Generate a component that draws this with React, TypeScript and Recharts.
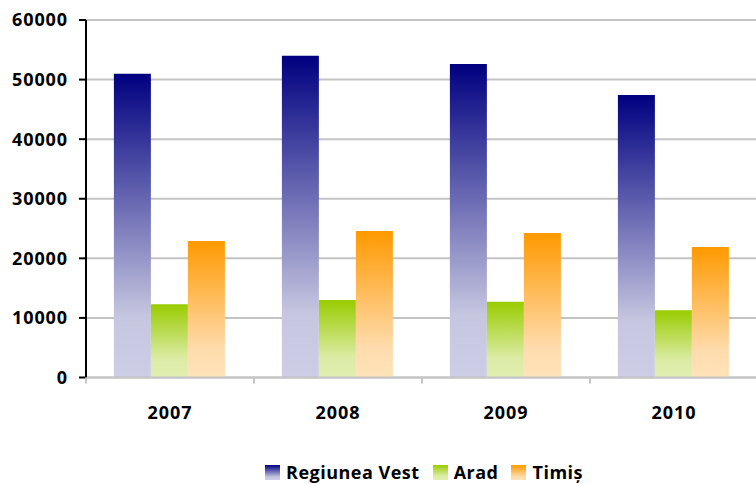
import React from "react";
import { BarChart, Bar, XAxis, YAxis, CartesianGrid } from "recharts";

const years = ["2007", "2008", "2009", "2010"];
const regiuneaVest = [51000, 54000, 52600, 47400];
const arad = [12300, 13000, 12700, 11300];
const timis = [22900, 24600, 24250, 21900];
const yTicks = [0, 10000, 20000, 30000, 40000, 50000, 60000];

const seriesDefs = [
  { key: "vest", name: "Regiunea Vest", grad: "gVest", stops: [["0%", "#000080"], ["80%", "#c6c6e0"], ["100%", "#cdcde6"]] },
  { key: "arad", name: "Arad", grad: "gArad", stops: [["0%", "#99cc00"], ["75%", "#dcecA6"], ["100%", "#e0eeb0"]] },
  { key: "timis", name: "Timiș", grad: "gTimis", stops: [["0%", "#ff9900"], ["80%", "#fedcae"], ["100%", "#ffe3b8"]] },
];

const data = years.map((y, i) => ({ year: y, vest: regiuneaVest[i], arad: arad[i], timis: timis[i] }));

const FONT = "'Open Sans', sans-serif";
const CHART_W = 780;
const CHART_H = 484;
const MARGIN = { top: 20, right: 22, left: 0, bottom: 66.5 };
const Y_W = 86;
const BAND = (CHART_W - MARGIN.left - MARGIN.right - Y_W) / years.length;

const XTick = (props: any) => {
  const { x, y, payload } = props;
  return (
    <g>
      <line x1={x - BAND / 2} x2={x - BAND / 2} y1={y} y2={y + 6} stroke="#c4c4c4" strokeWidth={2} />
      <text x={x} y={y + 41} textAnchor="middle" fontFamily={FONT} fontWeight={700} fontSize={18} letterSpacing={0.9} fill="#000">
        {payload.value}
      </text>
    </g>
  );
};

export default function App() {
  return (
    <div style={{ position: "absolute", left: 0, top: 0, width: 756, height: 484, overflow: "hidden", background: "#fff" }}>
      <BarChart width={CHART_W} height={CHART_H} data={data} margin={MARGIN} barCategoryGap="16.6%" barGap={0}>
        <defs>
          {seriesDefs.map((s) => (
            <linearGradient key={s.grad} id={s.grad} x1="0" y1="0" x2="0" y2="1">
              {s.stops.map(([o, c]) => (
                <stop key={o} offset={o} stopColor={c} />
              ))}
            </linearGradient>
          ))}
        </defs>
        <CartesianGrid vertical={false} stroke="#c4c4c4" strokeWidth={2} />
        <XAxis
          dataKey="year"
          axisLine={{ stroke: "#c4c4c4", strokeWidth: 2 }}
          tickLine={false}
          tickSize={0}
          tickMargin={0}
          height={40}
          tick={<XTick />}
          interval={0}
        />
        <YAxis
          width={Y_W}
          domain={[0, 60000]}
          ticks={yTicks}
          interval={0}
          axisLine={{ stroke: "#000", strokeWidth: 2 }}
          tickLine={{ stroke: "#000", strokeWidth: 2 }}
          tickSize={7}
          tickMargin={11}
          tick={{ fontFamily: FONT, fontWeight: 700, fontSize: 18, fill: "#000", letterSpacing: 0.9 }}
        />
        {seriesDefs.map((s) => (
          <Bar key={s.key} dataKey={s.key} name={s.name} fill={`url(#${s.grad})`} isAnimationActive={false} />
        ))}
      </BarChart>
      <div
        style={{
          position: "absolute",
          left: 265,
          top: 462,
          height: 20,
          display: "flex",
          alignItems: "center",
          fontFamily: FONT,
          fontWeight: 700,
          fontSize: 18,
          letterSpacing: 0.5,
          color: "#000",
          whiteSpace: "nowrap",
        }}
      >
        {seriesDefs.map((s) => (
          <div key={s.key} style={{ display: "flex", alignItems: "center", marginRight: 13 }}>
            <svg width={15} height={15} style={{ marginRight: 6 }}>
              <rect x={0} y={0} width={15} height={15} fill={`url(#${s.grad})`} />
            </svg>
            <span style={{ lineHeight: "20px" }}>{s.name}</span>
          </div>
        ))}
      </div>
    </div>
  );
}
